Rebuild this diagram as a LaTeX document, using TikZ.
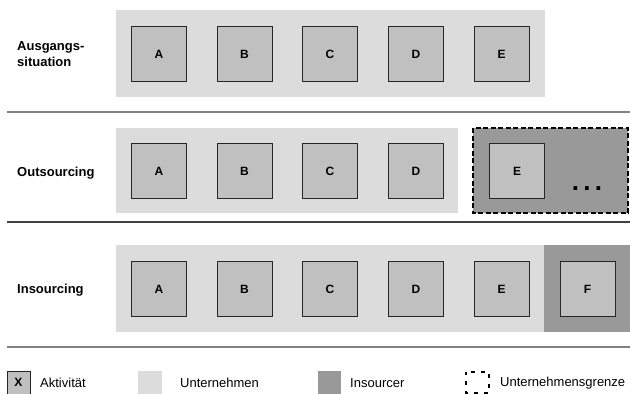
\documentclass[tikz,border=0pt]{standalone}
\usepackage{fontspec}
\setmainfont{Liberation Sans}
\usepackage{xcolor}
\usepackage{tikz}
\usetikzlibrary{positioning}

\definecolor{firmgray}{HTML}{DCDCDC}
\definecolor{actgray}{HTML}{C0C0C0}
\definecolor{insgray}{HTML}{999999}
\definecolor{rulegray}{HTML}{808080}

\begin{document}
\begin{tikzpicture}[
  x=1pt, y=-1pt,
  act/.style={draw=black!85, fill=actgray, line width=0.9pt, minimum size=55pt, inner sep=0pt, font=\bfseries\fontsize{12}{12}\selectfont},
  rowlbl/.style={anchor=west, align=left, inner sep=0pt, font=\bfseries\fontsize{13}{16}\selectfont},
  legtxt/.style={anchor=west, inner sep=0pt, font=\fontsize{13}{13}\selectfont},
  firm/.style={fill=firmgray},
  insrc/.style={fill=insgray},
  border/.style={draw=black, line width=1.6pt, dash pattern=on 5pt off 2.5pt},
  sep/.style={line width=1.5pt}
]
\clip (0,0) rectangle (630,394);

% bands
\fill[firm] (116,10) rectangle (545,97);
\fill[firm] (116,128) rectangle (458,213);
\filldraw[insrc, border] (473,128) rectangle (628,213);
\fill[firm] (116,245) rectangle (544,332);
\fill[insrc] (544,245) rectangle (630,332);

% separators
\draw[sep, rulegray] (7,112) -- (630,112);
\draw[sep, black!75] (7,222) -- (630,222);
\draw[sep, rulegray] (7,347) -- (630,347);

% row labels
\node[rowlbl] (ausg) at (17,54) {Ausgangs-\\situation};
\node[rowlbl] (outs) at (17,173) {Outsourcing};
\node[rowlbl] (ins) at (17,290) {Insourcing};

% activities
\foreach \n/\x in {A/159,B/244.5,C/330,D/416,E/501.5}
  \node[act] (\n1) at (\x,54) {\n};
\foreach \n/\x in {A/159,B/244.5,C/330,D/416,E/517}
  \node[act] (\n2) at (\x,171) {\n};
\foreach \n/\x in {A/159,B/244.5,C/330,D/416,E/501.5,F/587.5}
  \node[act] (\n3) at (\x,289) {\n};
\node[font=\bfseries\fontsize{26}{26}\selectfont, inner sep=0pt] (more) at (587,189) {.\,.\,.};

% legend
\filldraw[draw=black!85, fill=actgray, line width=0.9pt] (7,371) rectangle (30,396);
\node[font=\bfseries\fontsize{12}{12}\selectfont] (legx) at (18.5,382.5) {X};
\node[legtxt] (legact) at (40,383) {Aktivität};
\fill[firm] (138,371) rectangle (162,396);
\node[legtxt] (legfirm) at (180,383) {Unternehmen};
\fill[insrc] (318,371) rectangle (341,396);
\node[legtxt] (legins) at (350,383) {Insourcer};
\draw[line width=1.2pt, dash pattern=on 4pt off 6pt, dash phase=1pt] (466,372) rectangle (489,393);
\node[legtxt] (legbound) at (500,383) {Unternehmensgrenze};
\end{tikzpicture}
\end{document}
